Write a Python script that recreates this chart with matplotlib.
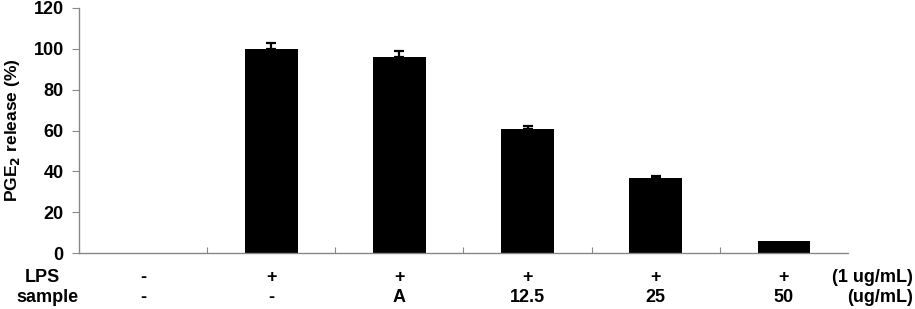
import numpy as np
import matplotlib.pyplot as plt
import matplotlib.transforms as mtransforms

plt.rcParams['font.family'] = ['Liberation Sans', 'DejaVu Sans']

# data
lps = ["-", "+", "+", "+", "+", "+"]
sample = ["-", "-", "A", "12.5", "25", "50"]
release = [0, 100, 96, 60.5, 36.5, 6]
err = [0, 3, 3, 1.5, 1, 0]

fig = plt.figure(figsize=(9.15, 3.09), dpi=100)
ax = fig.add_axes([79 / 915, 56 / 309, 769 / 915, 245 / 309])

x = np.arange(len(release))
ax.bar(x, release, width=0.41, color="black", zorder=2)
ax.errorbar(x[1:5], release[1:5], yerr=[np.zeros(4), err[1:5]], fmt="none",
            ecolor="black", elinewidth=1.6, capsize=3.5, capthick=1.6, zorder=3)

ax.set_xlim(-0.5, len(release) - 0.5)
ax.set_ylim(0, 120)
ax.set_yticks(range(0, 121, 20))
ax.set_xticks(np.arange(0.5, len(release) - 1, 1.0))
ax.set_xticklabels([])
ax.tick_params(axis="x", direction="in", length=4, color="#888888")
ax.tick_params(axis="y", direction="out", length=5, color="#888888",
               labelsize=13, pad=6)
for lab in ax.get_yticklabels():
    lab.set_fontweight("bold")

for s in ["top", "right"]:
    ax.spines[s].set_visible(False)
for s in ["left", "bottom"]:
    ax.spines[s].set_color("#888888")
    ax.spines[s].set_linewidth(1.0)

ax.set_ylabel("PGE$_\\mathbf{2}$ release (%)", fontsize=12.5, fontweight="bold",
              labelpad=8)

# treatment rows under the axis (x in data, y in figure coords)
y_lps = 1 - 282 / 309
y_smp = 1 - 302 / 309
trans = mtransforms.blended_transform_factory(ax.transData, fig.transFigure)
for i in x:
    ax.text(i, y_lps, lps[i], transform=trans, ha="center", va="baseline",
            fontsize=13, fontweight="bold")
    ax.text(i, y_smp, sample[i], transform=trans, ha="center", va="baseline",
            fontsize=13, fontweight="bold")

fig.text(42 / 915, y_lps, "LPS", ha="center", va="baseline",
         fontsize=13, fontweight="bold")
fig.text(47 / 915, y_smp, "sample", ha="center", va="baseline",
         fontsize=13, fontweight="bold")
fig.text(913 / 915, y_lps, "(1 ug/mL)", ha="right", va="baseline",
         fontsize=13, fontweight="bold")
fig.text(913 / 915, y_smp, "(ug/mL)", ha="right", va="baseline",
         fontsize=13, fontweight="bold")

fig.savefig("out.png", dpi=100)
